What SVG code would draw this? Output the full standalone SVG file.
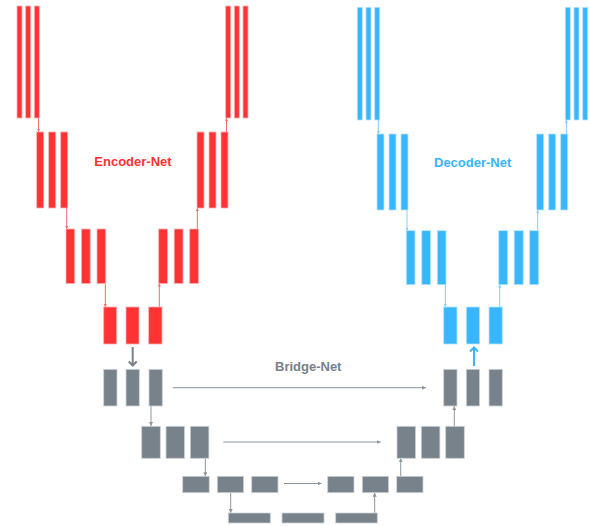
<svg xmlns="http://www.w3.org/2000/svg" width="589" height="526" viewBox="0 0 589 526">
<style>
.r{fill:#FF3333;stroke:#FFB0B0;stroke-width:0.8}
.b{fill:#38B6FF;stroke:#B5E3FF;stroke-width:0.8}
.g{fill:#77828B;stroke:#CDD2D6;stroke-width:0.8}
.t{font-family:"Liberation Sans",Arial,sans-serif;font-weight:bold;font-size:13px}
.cr{stroke:#F26D6D;stroke-width:1;fill:none}
.cb{stroke:#7FCFFF;stroke-width:1;fill:none}
.cg{stroke:#8C969E;stroke-width:1;fill:none}
</style>
<defs>
<marker id="ar" viewBox="0 0 6 6" refX="6" refY="3" markerWidth="3" markerHeight="3" orient="auto" markerUnits="userSpaceOnUse"><path d="M0,0L6,3L0,6z" fill="#F26D6D"/></marker>
<marker id="ab" viewBox="0 0 6 6" refX="6" refY="3" markerWidth="3" markerHeight="3" orient="auto" markerUnits="userSpaceOnUse"><path d="M0,0L6,3L0,6z" fill="#7FCFFF"/></marker>
<marker id="ag" viewBox="0 0 6 6" refX="6" refY="3" markerWidth="4" markerHeight="4" orient="auto" markerUnits="userSpaceOnUse"><path d="M0,0L6,3L0,6z" fill="#8C969E"/></marker>
</defs>
<g id="connectors">
<line class="cr" x1="38.5" y1="118" x2="38.5" y2="132" marker-end="url(#ar)"/>
<line class="cr" x1="226.5" y1="132" x2="226.5" y2="118" marker-end="url(#ar)"/>
<line class="cr" x1="66.7" y1="208" x2="66.7" y2="229" marker-end="url(#ar)"/>
<line class="cr" x1="197.3" y1="229" x2="197.3" y2="208" marker-end="url(#ar)"/>
<line class="cr" x1="105.3" y1="283.5" x2="105.3" y2="307" marker-end="url(#ar)"/>
<line class="cr" x1="159.3" y1="307" x2="159.3" y2="283.5" marker-end="url(#ar)"/>
<line class="cb" x1="378.3" y1="120" x2="378.3" y2="134" marker-end="url(#ab)"/>
<line class="cb" x1="566.3" y1="134" x2="566.3" y2="120" marker-end="url(#ab)"/>
<line class="cb" x1="407" y1="210" x2="407" y2="230.7" marker-end="url(#ab)"/>
<line class="cb" x1="537.7" y1="230.7" x2="537.7" y2="210" marker-end="url(#ab)"/>
<line class="cb" x1="445.3" y1="284.7" x2="445.3" y2="307" marker-end="url(#ab)"/>
<line class="cb" x1="499.7" y1="307" x2="499.7" y2="284.7" marker-end="url(#ab)"/>
<line class="cg" x1="151" y1="406" x2="151" y2="426" marker-end="url(#ag)"/>
<line class="cg" x1="205.3" y1="458.3" x2="205.3" y2="476.3" marker-end="url(#ag)"/>
<line class="cg" x1="230.7" y1="492.7" x2="230.7" y2="513" marker-end="url(#ag)"/>
<line class="cg" x1="374.7" y1="513" x2="374.7" y2="492.7" marker-end="url(#ag)"/>
<line class="cg" x1="400.7" y1="476.3" x2="400.7" y2="458.3" marker-end="url(#ag)"/>
<line class="cg" x1="454.3" y1="426.3" x2="454.3" y2="406" marker-end="url(#ag)"/>
<line class="cg" x1="172.7" y1="387.7" x2="426" y2="387.7" marker-end="url(#ag)"/>
<line class="cg" x1="223.3" y1="442" x2="380.7" y2="442" marker-end="url(#ag)"/>
<line class="cg" x1="284" y1="483.5" x2="321.5" y2="483.5" marker-end="url(#ag)"/>
<path d="M132.7,347V365.5M128.7,361.5L132.7,365.5L136.7,361.5" stroke="#77828B" stroke-width="2" fill="none"/>
<path d="M474,366V347.5M470,351.5L474,347.5L478,351.5" stroke="#38B6FF" stroke-width="2" fill="none"/>
</g>
<g id="enc-1L"><rect class="r" x="17" y="6" width="5" height="112"/><rect class="r" x="25.7" y="6" width="5" height="112"/><rect class="r" x="34.3" y="6" width="5" height="112"/></g>
<g id="enc-1R"><rect class="r" x="225.7" y="6" width="5" height="112"/><rect class="r" x="234.3" y="6" width="5" height="112"/><rect class="r" x="243" y="6" width="5" height="112"/></g>
<g id="enc-2L"><rect class="r" x="36.7" y="132" width="7" height="76"/><rect class="r" x="48.7" y="132" width="7" height="76"/><rect class="r" x="60.7" y="132" width="7" height="76"/></g>
<g id="enc-2R"><rect class="r" x="197" y="132" width="7" height="76"/><rect class="r" x="209" y="132" width="7" height="76"/><rect class="r" x="221" y="132" width="7" height="76"/></g>
<g id="enc-3L"><rect class="r" x="66" y="229" width="8.7" height="54.5"/><rect class="r" x="81.5" y="229" width="8.7" height="54.5"/><rect class="r" x="97" y="229" width="8.7" height="54.5"/></g>
<g id="enc-3R"><rect class="r" x="158.7" y="229" width="8.8" height="54.5"/><rect class="r" x="174.2" y="229" width="8.8" height="54.5"/><rect class="r" x="189.7" y="229" width="8.8" height="54.5"/></g>
<g id="enc-4"><rect class="r" x="103.7" y="307" width="13" height="37"/><rect class="r" x="126" y="307" width="13" height="37"/><rect class="r" x="148.7" y="307" width="13.3" height="37"/></g>
<g id="dec-1L"><rect class="b" x="357.3" y="7.3" width="5" height="112.7"/><rect class="b" x="366" y="7.3" width="5" height="112.7"/><rect class="b" x="374.7" y="7.3" width="5" height="112.7"/></g>
<g id="dec-1R"><rect class="b" x="565.3" y="7.3" width="5" height="112.7"/><rect class="b" x="574" y="7.3" width="5" height="112.7"/><rect class="b" x="582.7" y="7.3" width="5" height="112.7"/></g>
<g id="dec-2L"><rect class="b" x="377" y="134" width="7" height="76"/><rect class="b" x="389" y="134" width="7" height="76"/><rect class="b" x="401" y="134" width="7" height="76"/></g>
<g id="dec-2R"><rect class="b" x="536.7" y="134" width="7" height="76"/><rect class="b" x="548.7" y="134" width="7" height="76"/><rect class="b" x="560.7" y="134" width="7" height="76"/></g>
<g id="dec-3L"><rect class="b" x="406.3" y="230.7" width="8.7" height="54"/><rect class="b" x="421.8" y="230.7" width="8.7" height="54"/><rect class="b" x="437.3" y="230.7" width="8.7" height="54"/></g>
<g id="dec-3R"><rect class="b" x="498.7" y="230.7" width="9" height="54"/><rect class="b" x="514.2" y="230.7" width="9" height="54"/><rect class="b" x="529.7" y="230.7" width="9" height="54"/></g>
<g id="dec-4"><rect class="b" x="443.7" y="307" width="13.3" height="37"/><rect class="b" x="466.3" y="307" width="13.3" height="37"/><rect class="b" x="489" y="307" width="13.3" height="37"/></g>
<g id="br-1L"><rect class="g" x="103.7" y="369.3" width="13.3" height="36.7"/><rect class="g" x="126" y="369.3" width="13.3" height="36.7"/><rect class="g" x="149" y="369.3" width="13.3" height="36.7"/></g>
<g id="br-1R"><rect class="g" x="443.7" y="369.3" width="13.3" height="36.7"/><rect class="g" x="466.3" y="369.3" width="13.3" height="36.7"/><rect class="g" x="489" y="369.3" width="13.3" height="36.7"/></g>
<g id="br-2L"><rect class="g" x="141.7" y="426.3" width="18.6" height="32"/><rect class="g" x="166" y="426.3" width="18.6" height="32"/><rect class="g" x="190.3" y="426.3" width="18.6" height="32"/></g>
<g id="br-2R"><rect class="g" x="397" y="426.3" width="18.6" height="32"/><rect class="g" x="421.3" y="426.3" width="18.6" height="32"/><rect class="g" x="445.7" y="426.3" width="18.6" height="32"/></g>
<g id="br-3L"><rect class="g" x="182.7" y="476.3" width="26.5" height="16.4"/><rect class="g" x="217.3" y="476.3" width="26.3" height="16.4"/><rect class="g" x="251.7" y="476.3" width="26.3" height="16.4"/></g>
<g id="br-3R"><rect class="g" x="327.7" y="476.3" width="26.3" height="16.4"/><rect class="g" x="362.3" y="476.3" width="26.3" height="16.4"/><rect class="g" x="396.7" y="476.3" width="26.3" height="16.4"/></g>
<g id="br-4"><rect class="g" x="228.3" y="513" width="42" height="10"/><rect class="g" x="282" y="513" width="42" height="10"/><rect class="g" x="335.7" y="513" width="41.6" height="10"/></g>
<g id="labels">
<text class="t" x="94.3" y="166" fill="#FF3333">Encoder-Net</text>
<text class="t" x="434" y="166.5" fill="#38B6FF">Decoder-Net</text>
<text class="t" x="275" y="370.5" fill="#77828B">Bridge-Net</text>
</g>
</svg>
